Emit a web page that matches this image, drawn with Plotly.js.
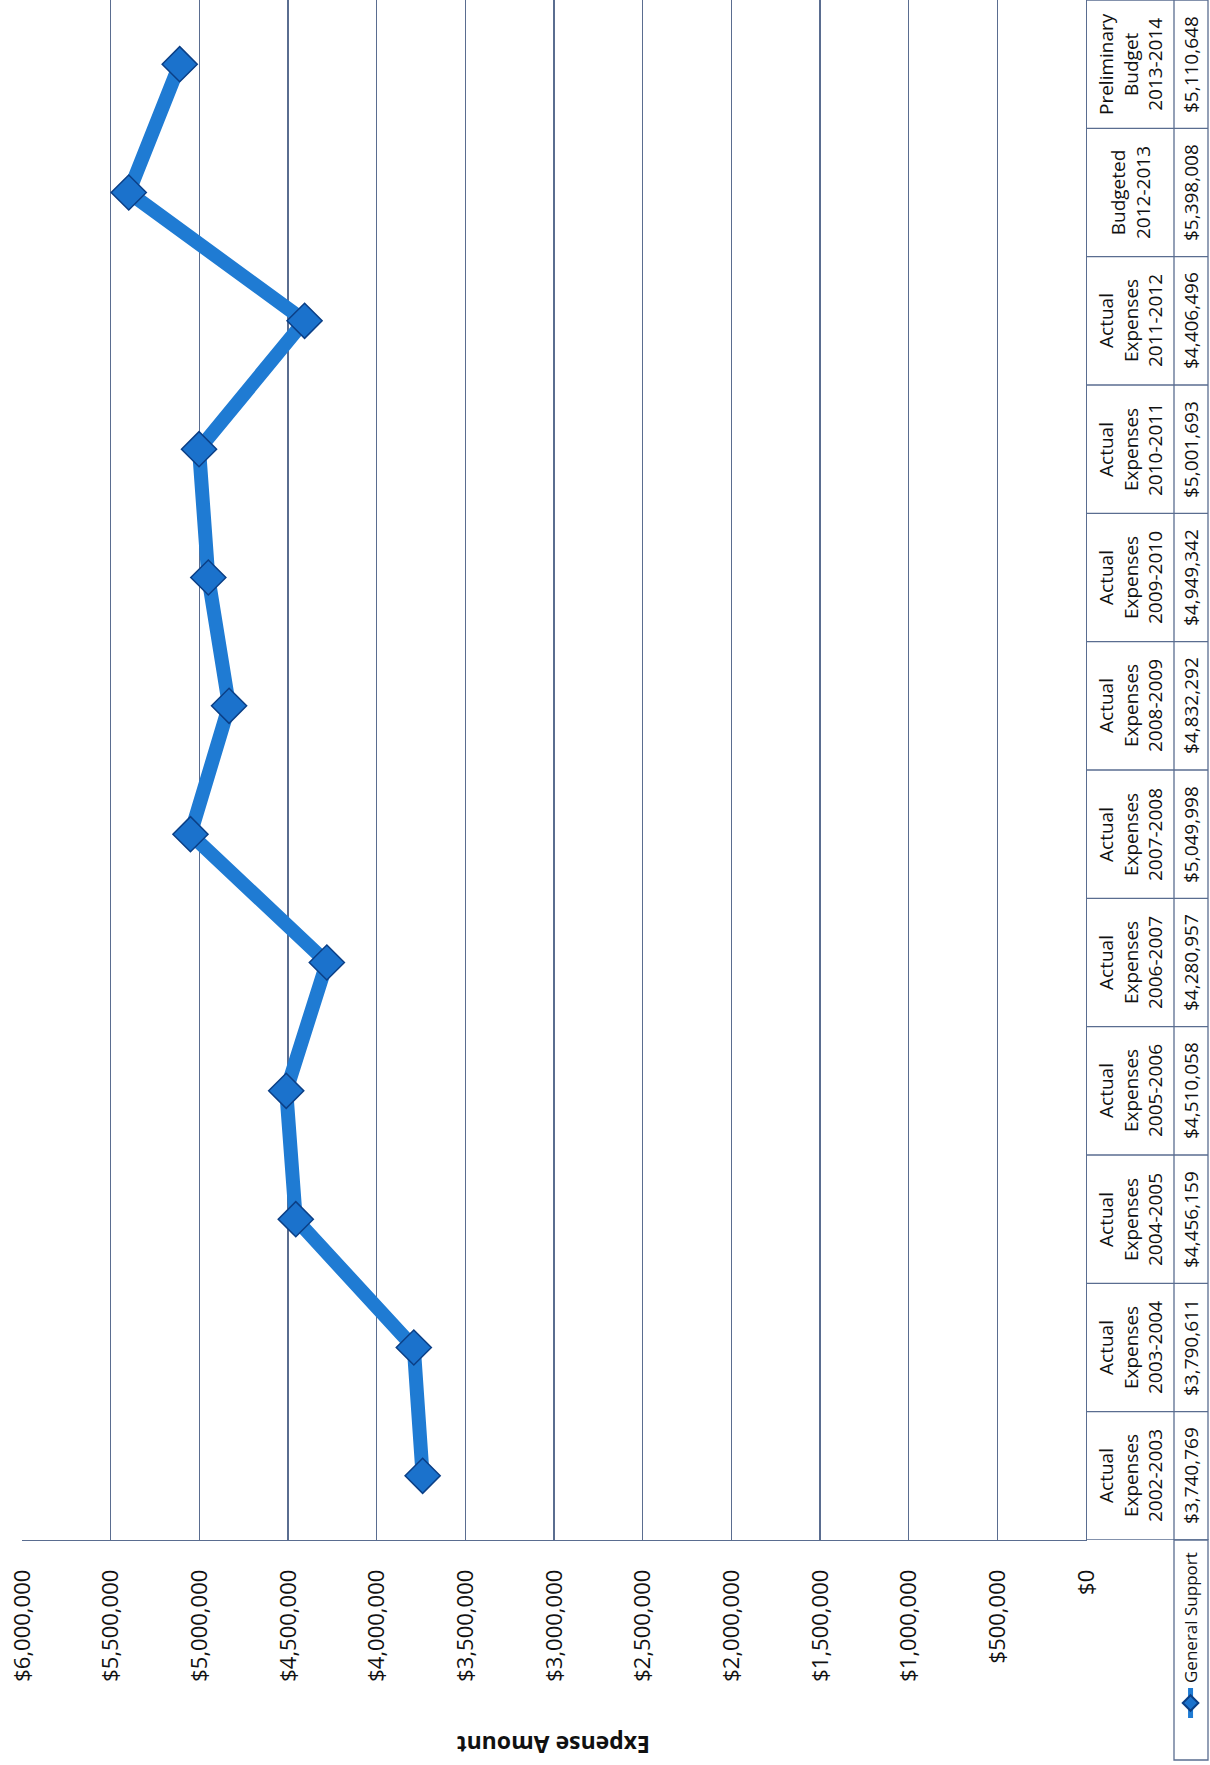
<!DOCTYPE html>
<html>
<head>
<meta charset="utf-8">
<script src="https://cdn.plot.ly/plotly-3.0.1.min.js"></script>
<style>
  html, body { margin: 0; padding: 0; background: #ffffff; overflow: hidden; width: 1210px; height: 1765px; }
  #chart {
    position: absolute; left: 0; top: 0;
    width: 1765px; height: 1210px;
    transform-origin: 0 0;
    transform: translate(0px, 1765px) rotate(-90deg);
  }
</style>
</head>
<body>
<div id="chart"></div>
<script>
// ---- data ----
const categories = [
  "Actual<br>Expenses<br>2002-2003",
  "Actual<br>Expenses<br>2003-2004",
  "Actual<br>Expenses<br>2004-2005",
  "Actual<br>Expenses<br>2005-2006",
  "Actual<br>Expenses<br>2006-2007",
  "Actual<br>Expenses<br>2007-2008",
  "Actual<br>Expenses<br>2008-2009",
  "Actual<br>Expenses<br>2009-2010",
  "Actual<br>Expenses<br>2010-2011",
  "Actual<br>Expenses<br>2011-2012",
  "Budgeted<br>2012-2013",
  "Preliminary<br>Budget<br>2013-2014"
];
const seriesName = "General Support";
const values = [3740769, 3790611, 4456159, 4510058, 4280957, 5049998,
                4832292, 4949342, 5001693, 4406496, 5398008, 5110648];
const yAxisTitle = "Expense Amount";

// ---- layout geometry (unrotated frame) ----
const W = 1765, H = 1210;
const M = { l: 225, r: 0, t: 22, b: 124 };
const PW = W - M.l - M.r, PH = H - M.t - M.b;
const px = u => (u - M.l) / PW;          // pixel -> paper x
const py = v => 1 - (v - M.t) / PH;      // pixel -> paper y
const GRID = '#5a6d90';
const LINE = '#1f7bd3';
const FONT = '"Open Sans", "Noto Sans", sans-serif';

const xs = categories.map((c, i) => i);
const fmt = v => '$' + v.toLocaleString('en-US');

const trace = {
  type: 'scatter', mode: 'lines+markers', name: seriesName,
  x: xs, y: values,
  line: { color: LINE, width: 14 },
  marker: { symbol: 'diamond', size: 27, color: '#1b72cc', line: { color: '#0b3f86', width: 1.5 } }
};

const shapes = [];
const annotations = [];
const rowTop = 1086, rowMid = 1174, rowBot = 1208;
// table horizontal lines
[rowMid, rowBot].forEach(v => shapes.push({
  type: 'line', xref: 'x', yref: 'paper', x0: -0.5, x1: 11.5, y0: py(v), y1: py(v),
  line: { color: GRID, width: 1.3 }
}));
// table vertical lines (column separators)
for (let k = 0; k <= categories.length; k++) {
  shapes.push({
    type: 'line', xref: 'x', yref: 'paper', x0: k - 0.5, x1: k - 0.5, y0: py(rowTop), y1: py(rowBot),
    line: { color: GRID, width: 1.3 }
  });
}
// legend cell box
shapes.push({
  type: 'rect', xref: 'paper', yref: 'paper', x0: px(5), x1: 0, y0: py(rowBot), y1: py(rowMid),
  line: { color: GRID, width: 1.3 }
});
// table texts
categories.forEach((c, i) => {
  annotations.push({
    xref: 'x', yref: 'paper', x: i, y: py((rowTop + rowMid) / 2), text: c, showarrow: false,
    align: 'center', xanchor: 'center', yanchor: 'middle',
    font: { family: FONT, size: 19, color: '#111' }
  });
  annotations.push({
    xref: 'x', yref: 'paper', x: i, y: py((rowMid + rowBot) / 2), text: fmt(values[i]), showarrow: false,
    xanchor: 'center', yanchor: 'middle',
    font: { family: FONT, size: 19, color: '#111' }
  });
});
// axis title
annotations.push({
  xref: 'paper', yref: 'paper', x: px(20), y: 0.5, text: '<b>' + yAxisTitle + '</b>', showarrow: false,
  textangle: -90, xanchor: 'center', yanchor: 'middle',
  font: { family: FONT, size: 23, color: '#111' }
});

const layout = {
  width: W, height: H,
  margin: M,
  paper_bgcolor: '#ffffff', plot_bgcolor: '#ffffff',
  font: { family: FONT, color: '#111' },
  showlegend: true,
  legend: {
    x: px(42), xanchor: 'left', y: py((rowMid + rowBot) / 2), yanchor: 'middle',
    bgcolor: 'rgba(0,0,0,0)', borderwidth: 0, itemsizing: 'constant',
    font: { family: FONT, size: 17, color: '#111' }
  },
  xaxis: {
    type: 'linear', range: [-0.5, 11.5], showgrid: false, zeroline: false,
    showticklabels: false, ticks: '', showline: true, linecolor: GRID, linewidth: 1.3
  },
  yaxis: {
    range: [0, 6000000], dtick: 500000, tick0: 0,
    tickprefix: '$', tickformat: ',d',
    showgrid: true, gridcolor: GRID, gridwidth: 1.3, zeroline: false,
    showline: true, linecolor: GRID, linewidth: 1.3,
    ticks: '', ticklabelstandoff: 24,
    tickfont: { family: FONT, size: 22, color: '#111' }
  },
  shapes: shapes,
  annotations: annotations
};

Plotly.newPlot('chart', [trace], layout, { staticPlot: true, displayModeBar: false });
</script>
</body>
</html>
